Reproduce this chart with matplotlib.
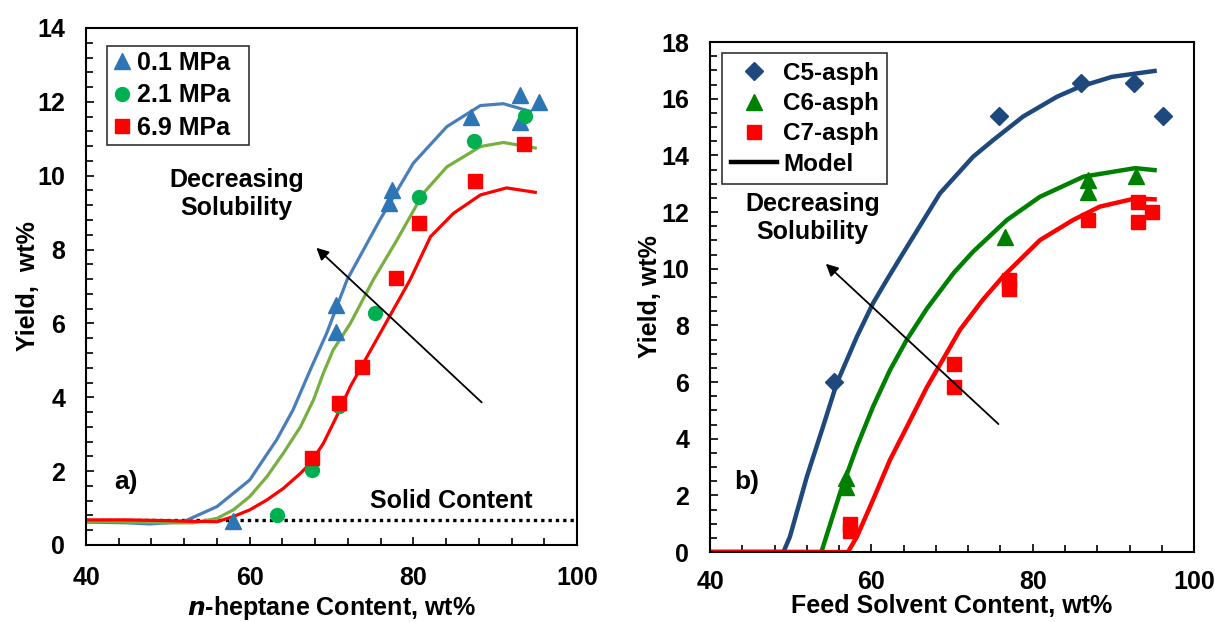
import matplotlib
matplotlib.use("Agg")
import matplotlib.pyplot as plt
from matplotlib.lines import Line2D
from matplotlib.ticker import MultipleLocator

plt.rcParams["font.family"] = ["Liberation Sans", "DejaVu Sans"]
plt.rcParams["font.weight"] = "bold"

# ── panel a) data ─────────────────────────────────────────
a_tri_x = [58.0, 70.6, 70.6, 77.0, 77.4, 87.0, 93.0, 93.0, 95.3]
a_tri_y = [0.65, 5.78, 6.49, 9.27, 9.60, 11.60, 12.19, 11.46, 12.00]
a_cir_x = [63.3, 67.6, 70.9, 75.3, 80.7, 87.4, 93.7]
a_cir_y = [0.81, 2.03, 3.76, 6.27, 9.43, 10.95, 11.62]
a_sq_x = [67.6, 70.9, 73.7, 77.9, 80.7, 87.5, 93.5]
a_sq_y = [2.35, 3.84, 4.81, 7.24, 8.73, 9.86, 10.86]

a_mod1_x = [40, 45, 47.8, 51.9, 56.0, 60.0, 63.3, 65.3, 67.4, 69.4, 71.9, 75.9, 80.0, 84.1, 88.2, 91.0, 94.3]
a_mod1_y = [0.62, 0.60, 0.57, 0.63, 1.04, 1.76, 2.85, 3.66, 4.74, 5.73, 7.18, 8.80, 10.34, 11.33, 11.90, 11.95, 11.74]
a_mod2_x = [40, 46, 50, 53.1, 56.0, 58.0, 60.0, 62.1, 64.1, 66.2, 67.8, 69.0, 70.2, 72.3, 75.1, 78.0, 81.2, 84.1, 88.2, 91.0, 94.9]
a_mod2_y = [0.64, 0.62, 0.60, 0.60, 0.72, 0.95, 1.31, 1.85, 2.48, 3.20, 3.93, 4.65, 5.28, 6.00, 7.18, 8.26, 9.52, 10.24, 10.79, 10.90, 10.75]
a_mod3_x = [40, 45, 50, 53, 56.0, 58.0, 60.0, 62.1, 64.1, 66.2, 67.4, 69.0, 70.6, 72.3, 75.3, 79.6, 82.1, 84.9, 88.2, 91.4, 94.9]
a_mod3_y = [0.68, 0.68, 0.66, 0.64, 0.63, 0.77, 0.95, 1.22, 1.53, 1.94, 2.21, 2.75, 3.47, 4.29, 5.48, 7.18, 8.35, 8.98, 9.48, 9.67, 9.55]
solid_x = [40, 100]
solid_y = [0.68, 0.68]

# ── panel b) data ─────────────────────────────────────────
b_c5_x = [55.4, 75.8, 86.0, 92.5, 96.1]
b_c5_y = [6.00, 15.39, 16.55, 16.55, 15.39]
b_c6_x = [56.8, 56.8, 76.5, 86.8, 86.8, 92.8]
b_c6_y = [2.60, 2.30, 11.12, 13.13, 12.71, 13.27]
b_c7_x = [57.4, 57.4, 70.2, 70.2, 77.1, 77.1, 86.8, 93.0, 93.0, 94.8]
b_c7_y = [0.99, 0.75, 6.64, 5.84, 9.60, 9.30, 11.72, 12.36, 11.66, 12.01]

b_mod5_x = [40, 49.1, 49.9, 52.0, 54.0, 55.7, 58.2, 60.2, 61.9, 63.5, 68.5, 72.6, 75.1, 78.8, 83.0, 85.8, 89.8, 95.1]
b_mod5_y = [0, 0, 0.54, 2.66, 4.42, 5.95, 7.60, 8.78, 9.60, 10.35, 12.66, 13.95, 14.54, 15.37, 16.07, 16.42, 16.77, 16.98]
b_mod6_x = [40, 53.8, 56.1, 58.2, 60.2, 62.3, 64.4, 66.9, 70.2, 72.6, 76.8, 80.9, 86.3, 92.7, 95.1]
b_mod6_y = [0, 0, 2.07, 3.72, 5.13, 6.42, 7.50, 8.60, 9.85, 10.60, 11.72, 12.54, 13.25, 13.55, 13.48]
b_mod7_x = [40, 57.1, 58.2, 60.2, 62.3, 64.4, 66.9, 69.3, 71.0, 73.8, 76.3, 80.9, 85.0, 88.3, 92.7, 95.1]
b_mod7_y = [0, 0, 0.54, 1.84, 3.25, 4.42, 5.83, 7.01, 7.85, 8.90, 9.72, 11.01, 11.72, 12.19, 12.48, 12.45]

fig = plt.figure(figsize=(12.15, 6.22), dpi=100)
ax1 = fig.add_axes([0.0708, 0.1238, 0.4041, 0.8312])
ax2 = fig.add_axes([0.5844, 0.1125, 0.3984, 0.8199])

FS = 18


def style_axis(ax, ymax, ymajor, yminor, xpad):
    ax.set_xlim(40, 100)
    ax.set_ylim(0, ymax)
    ax.xaxis.set_major_locator(MultipleLocator(20))
    ax.xaxis.set_minor_locator(MultipleLocator(4))
    ax.yaxis.set_major_locator(MultipleLocator(ymajor))
    ax.yaxis.set_minor_locator(MultipleLocator(yminor))
    ax.tick_params(which="both", direction="in", top=False, right=False,
                   width=1.2, labelsize=FS, pad=15)
    ax.tick_params(axis="x", which="both", pad=xpad)
    ax.tick_params(which="major", length=6)
    ax.tick_params(which="minor", length=5)
    for lab in ax.get_xticklabels() + ax.get_yticklabels():
        lab.set_fontweight("bold")
    for s in ax.spines.values():
        s.set_linewidth(1.5)


# ── a) ──
blue_a, green_a, red = "#2E75B6", "#00B050", "#FF0000"
ax1.plot(solid_x, solid_y, color="black", linestyle=(0, (1, 1.2)), linewidth=2.4, zorder=1)
ax1.plot(a_mod1_x, a_mod1_y, color="#4A7EBB", linewidth=2.3, zorder=2)
ax1.plot(a_mod2_x, a_mod2_y, color="#77B041", linewidth=2.3, zorder=2)
ax1.plot(a_mod3_x, a_mod3_y, color=red, linewidth=2.3, zorder=2)
ax1.plot(a_tri_x, a_tri_y, "^", color=blue_a, markersize=11, linestyle="none", zorder=3, label="0.1 MPa  ")
ax1.plot(a_cir_x, a_cir_y, "o", color=green_a, markersize=10, linestyle="none", zorder=3, label="2.1 MPa  ")
ax1.plot(a_sq_x, a_sq_y, "s", color=red, markersize=10, linestyle="none", zorder=4, label="6.9 MPa  ")
ax1.annotate("", xy=(67.9, 8.1), xytext=(88.6, 3.81),
             arrowprops=dict(arrowstyle="-|>", color="black", lw=1.3, mutation_scale=18))
ax1.text(58.4, 9.5, "Decreasing\nSolubility", ha="center", va="center",
         fontsize=FS, fontweight="bold", linespacing=1.2)
ax1.text(44.9, 1.7, "a)", ha="center", va="center", fontsize=FS + 1, fontweight="bold")
ax1.text(84.6, 1.2, "Solid Content", ha="center", va="center", fontsize=FS, fontweight="bold")
style_axis(ax1, 14, 2, 0.4, 15)
ax1.set_ylabel("Yield,  wt%", fontsize=FS, fontweight="bold", labelpad=-2)
ax1.set_xlabel(r"$\bf{\it{n}}$-heptane Content, wt%", fontsize=FS, fontweight="bold", labelpad=3)
leg1 = ax1.legend(loc="upper left", bbox_to_anchor=(0.043, 0.965), fontsize=FS,
                  handlelength=0.8, handletextpad=0.2, borderpad=0.2, labelspacing=0.33,
                  frameon=True, fancybox=False, edgecolor="black", borderaxespad=0)
leg1.get_frame().set_linewidth(1.2)
for t in leg1.get_texts():
    t.set_fontweight("bold")

# ── b) ──
navy, green_b = "#1F497D", "#008000"
ax2.plot(b_mod5_x, b_mod5_y, color=navy, linewidth=3.2, zorder=2)
ax2.plot(b_mod6_x, b_mod6_y, color=green_b, linewidth=3.2, zorder=2)
ax2.plot(b_mod7_x, b_mod7_y, color=red, linewidth=3.2, zorder=2)
ax2.plot(b_c5_x, b_c5_y, "D", color=navy, markersize=9, linestyle="none", zorder=3)
ax2.plot(b_c6_x, b_c6_y, "^", color=green_b, markersize=12, linestyle="none", zorder=3)
ax2.plot(b_c7_x, b_c7_y, "s", color=red, markersize=10.5, linestyle="none", zorder=3)
ax2.annotate("", xy=(54.1, 10.24), xytext=(76.0, 4.45),
             arrowprops=dict(arrowstyle="-|>", color="black", lw=1.3, mutation_scale=18))
ax2.text(52.7, 11.8, "Decreasing\nSolubility", ha="center", va="center",
         fontsize=FS, fontweight="bold", linespacing=1.2)
ax2.text(44.6, 2.47, "b)", ha="center", va="center", fontsize=FS + 1, fontweight="bold")
style_axis(ax2, 18, 2, 0.5, 13)
ax2.set_ylabel("Yield, wt%", fontsize=FS, fontweight="bold", labelpad=-0.5)
ax2.set_xlabel("Feed Solvent Content, wt%", fontsize=FS, fontweight="bold", labelpad=0)
handles = [
    Line2D([], [], marker="D", color=navy, markersize=9, linestyle="none"),
    Line2D([], [], marker="^", color=green_b, markersize=12, linestyle="none"),
    Line2D([], [], marker="s", color=red, markersize=10.5, linestyle="none"),
    Line2D([], [], color="black", linewidth=3.2),
]
leg2 = ax2.legend(handles, ["C5-asph", "C6-asph", "C7-asph", "Model"],
                  loc="upper left", bbox_to_anchor=(0.025, 0.978), fontsize=FS - 0.5,
                  handlelength=1.9, handletextpad=0.25, borderpad=0.35, labelspacing=0.3,
                  frameon=True, fancybox=False, edgecolor="black", borderaxespad=0)
leg2.get_frame().set_linewidth(1.2)
for t in leg2.get_texts():
    t.set_fontweight("bold")

fig.savefig("out.png", dpi=100)
